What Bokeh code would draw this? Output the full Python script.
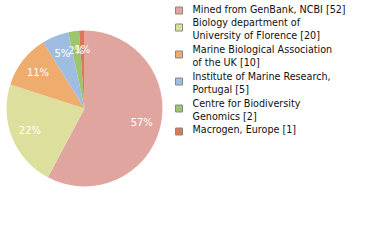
import math
from bokeh.plotting import figure
from bokeh.models import Range1d, ColumnDataSource
from bokeh.core.properties import value
from bokeh.embed import file_html
from bokeh.resources import INLINE

labels = ["Mined from GenBank, NCBI [52]",
          "Biology department of\nUniversity of Florence [20]",
          "Marine Biological Association\nof the UK [10]",
          "Institute of Marine Research,\nPortugal [5]",
          "Centre for Biodiversity\nGenomics [2]",
          "Macrogen, Europe [1]"]
counts = [52, 20, 10, 5, 2, 1]
colors = ["#e0a59e", "#dde09d", "#eeac6f", "#9ebde0", "#9dc46f", "#df7459"]

W, H = 380, 240
p = figure(width=W, height=H, output_backend="svg", toolbar_location=None,
           x_range=Range1d(0, W), y_range=Range1d(0, H), min_border=0)
p.axis.visible = False
p.grid.visible = False
p.outline_line_color = None
p.background_fill_color = "white"
p.border_fill_color = "white"

def Y(ypix):
    return H - ypix

cx, cy, r = 84, Y(108), 78
total = sum(counts)
starts, ends, lx, ly, pct = [], [], [], [], []
cum = 0.0
for c in counts:
    f0 = cum / total
    cum += c
    f1 = cum / total
    starts.append(math.pi / 2 - 2 * math.pi * f0)
    ends.append(math.pi / 2 - 2 * math.pi * f1)
    a = 2 * math.pi * (f0 + f1) / 2
    lx.append(cx + 59 * math.sin(a))
    ly.append(cy + 59 * math.cos(a))
    pct.append("%d%%" % int(c * 100 / total))

src = ColumnDataSource(dict(start=starts, end=ends, color=colors, lx=lx, ly=ly, pct=pct))
p.wedge(x=cx, y=cy, radius=r, start_angle="start", end_angle="end",
        direction="clock", fill_color="color", line_color=None, source=src)
p.text(x="lx", y="ly", text="pct", source=src, text_color="white",
       text_font=value("DejaVu Sans"), text_font_size="10px",
       text_align="center", text_baseline="middle")

sq_y = [Y(v) for v in [10, 27, 54, 81, 108, 131]]
tx_y = [Y(v) for v in [9, 28.3, 55.3, 82.3, 109.2, 129.3]]
p.rect(x=[178.5] * len(counts), y=sq_y, width=7, height=7, fill_color=colors,
       line_color="#888888", line_width=1)
p.text(x=[192] * len(counts), y=tx_y, text=labels, text_color="#111111",
       text_font=value("DejaVu Sans"), text_font_size="9.6px",
       text_align="left", text_baseline="middle", text_line_height=1.2)

open("out.html", "w").write(file_html(p, INLINE))
